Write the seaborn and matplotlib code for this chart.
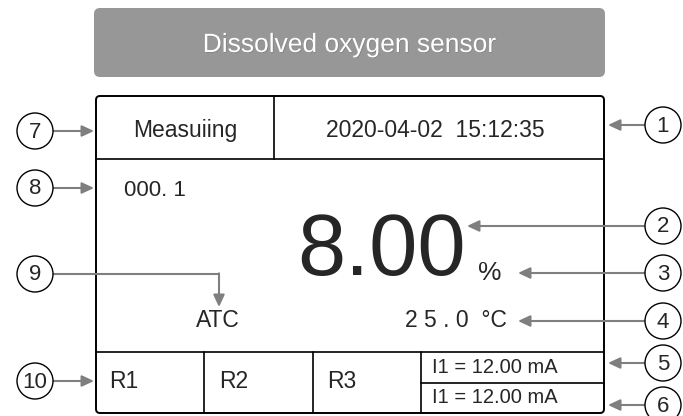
import matplotlib
matplotlib.use("Agg")
import matplotlib.pyplot as plt
from matplotlib.patches import FancyBboxPatch, Circle, FancyArrowPatch
import matplotlib.patheffects as pe
import seaborn as sns

# ---- texts shown on the display ----
title = "Dissolved oxygen sensor"
status_text = "Measuiing"
date_text = "2020-04-02  15:12:35"
counter_text = "000. 1"
main_value = "8.00"
unit_text = "%"
atc_text = "ATC"
temp_text = "2 5 . 0  °C"
relay_labels = ["R1", "R2", "R3"]
current_outputs = ["I1 = 12.00 mA", "I1 = 12.00 mA"]
callouts_right = ["1", "2", "3", "4", "5", "6"]
callouts_left = ["7", "8", "9", "10"]

# ---- layout (pixel coordinates, y down) ----
W, H = 683, 416
box_l, box_r, box_t, box_b = 96, 604, 96, 413
row1_y, row3_y = 159, 352
relay_x = [204, 313, 421]
relay_text_x = [109, 219, 327]
cur_split_y = 383
right_cx, left_cx, rad = 663, 35, 18
right_cy = [125, 226, 273, 321, 363, 405]
right_tip = [608, 467, 518, 518, 608, 608]
left_cy = [131, 188, 274, 381]

sns.set_theme(style="white")
plt.rcParams['font.family'] = ['Liberation Sans', 'DejaVu Sans']

fig = plt.figure(figsize=(W / 100, H / 100), dpi=100)
ax = fig.add_axes([0, 0, 1, 1])
ax.set_xlim(0, W)
ax.set_ylim(H, 0)
ax.axis('off')

gray = "#7f7f7f"

# title banner
ax.add_patch(FancyBboxPatch((94, 8), 511, 69, boxstyle="round,pad=0,rounding_size=6",
                            fc="#979797", ec="none"))
ax.text(349.5, 52, title, color="white", fontsize=19, ha="center", va="baseline",
        path_effects=[pe.withSimplePatchShadow(offset=(0.5, -0.5), alpha=0.3)])

# display frame
ax.add_patch(FancyBboxPatch((box_l, box_t), box_r - box_l, box_b - box_t,
                            boxstyle="round,pad=0,rounding_size=4",
                            fc="white", ec="black", lw=1.4))
lw_in = 1.2
ax.plot([box_l, box_r], [row1_y, row1_y], color="black", lw=lw_in)
ax.plot([box_l, box_r], [row3_y, row3_y], color="black", lw=lw_in)
ax.plot([274, 274], [box_t, row1_y], color="black", lw=lw_in)
for x in relay_x:
    ax.plot([x, x], [row3_y, box_b], color="black", lw=lw_in)
ax.plot([relay_x[-1], box_r], [cur_split_y, cur_split_y], color="black", lw=lw_in)

# display texts
ax.text(185, 137, status_text, fontsize=16.5, ha="center", va="baseline")
ax.text(435.5, 137, date_text, fontsize=16.5, ha="center", va="baseline")
ax.text(124, 196, counter_text, fontsize=16, ha="left", va="baseline")
ax.text(381.5, 275, main_value, fontsize=62.5, ha="center", va="baseline")
ax.text(490, 280, unit_text, fontsize=19, ha="center", va="baseline")
ax.text(218, 327, atc_text, fontsize=16.5, ha="center", va="baseline")
ax.text(456, 327, temp_text, fontsize=16.5, ha="center", va="baseline")
for x, lab in zip(relay_text_x, relay_labels):
    ax.text(x, 388, lab, fontsize=16.5, ha="left", va="baseline")
for yb, lab in zip([373, 403], current_outputs):
    ax.text(432, yb, lab, fontsize=14.5, ha="left", va="baseline")


def arrow(x0, y0, x1, y1):
    ax.add_patch(FancyArrowPatch((x0, y0), (x1, y1),
                                 arrowstyle="-|>,head_length=0.6,head_width=0.28",
                                 mutation_scale=12, color=gray, lw=1.5,
                                 shrinkA=0, shrinkB=0))


def callout(cx, cy, num):
    ax.add_patch(Circle((cx, cy), rad, fc="white", ec="black", lw=1.0, zorder=3))
    ax.text(cx, cy + 1, num, fontsize=16, ha="center", va="center", zorder=4)


# right callouts
for num, cy, tip in zip(callouts_right, right_cy, right_tip):
    arrow(right_cx - rad, cy, tip, cy)
    callout(right_cx, cy, num)

# left callouts
for num, cy in zip(callouts_left, left_cy):
    if num == "9":
        ax.plot([left_cx + rad, 219], [cy, cy], color=gray, lw=1.5)
        arrow(219, cy - 0.7, 219, 307)
    else:
        arrow(left_cx + rad, cy, box_l - 2, cy)
    callout(left_cx, cy, num)

fig.savefig("out.png", dpi=100)
